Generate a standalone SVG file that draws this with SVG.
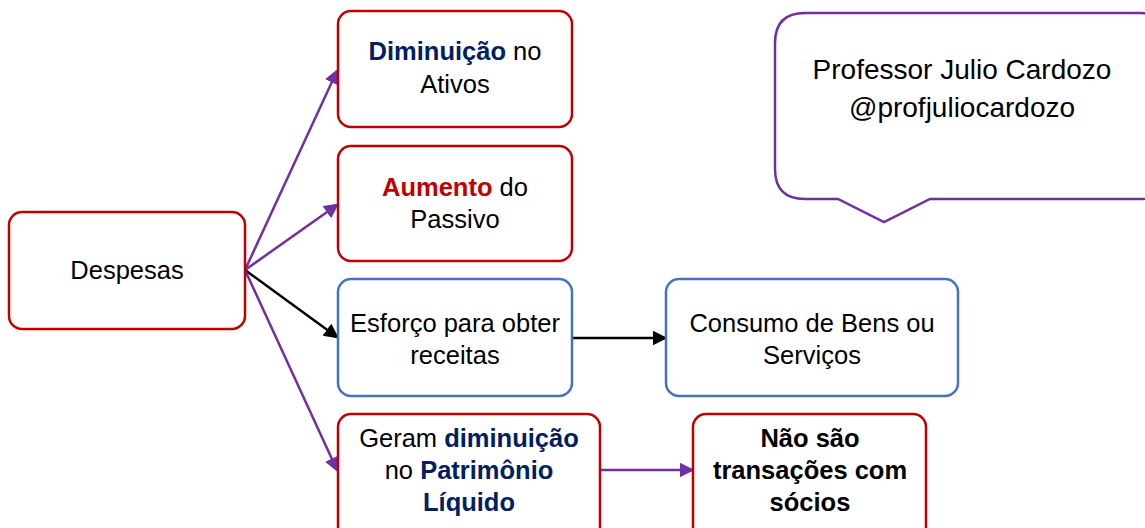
<svg xmlns="http://www.w3.org/2000/svg" width="1145" height="528" viewBox="0 0 1145 528">
<defs>
<style>
.red{fill:#fff;stroke:#C00000;stroke-width:2.5}
.blue{fill:#fff;stroke:#4472C4;stroke-width:2.5}
text{font-family:"Liberation Sans",Arial,sans-serif;font-size:25.5px;fill:#000;text-anchor:middle}
.big{font-size:28px}
.b{font-weight:bold}
.nb{fill:#002060;font-weight:bold}
.rb{fill:#C00000;font-weight:bold}
.pl{stroke:#7030A0;stroke-width:2.5;fill:none}
.bl{stroke:#000;stroke-width:2.5;fill:none}
</style>
<marker id="ap" markerWidth="6" markerHeight="6" refX="5" refY="3" orient="auto" markerUnits="strokeWidth"><path d="M0,0 L6,3 L0,6 z" fill="#7030A0"/></marker>
<marker id="ab" markerWidth="6" markerHeight="6" refX="5" refY="3" orient="auto" markerUnits="strokeWidth"><path d="M0,0 L6,3 L0,6 z" fill="#000"/></marker>
</defs>
<rect width="1145" height="528" fill="#fff"/>
<g id="connectors">
<line class="pl" x1="245" y1="270" x2="337" y2="71" marker-end="url(#ap)"/>
<line class="pl" x1="245" y1="270" x2="337" y2="205" marker-end="url(#ap)"/>
<line class="bl" x1="245" y1="270" x2="337" y2="337" marker-end="url(#ab)"/>
<line class="pl" x1="245" y1="270" x2="337" y2="470" marker-end="url(#ap)"/>
<line class="bl" x1="572" y1="338" x2="665" y2="338" marker-end="url(#ab)"/>
<line class="pl" x1="600" y1="470" x2="692" y2="470" marker-end="url(#ap)"/>
</g>
<g id="despesas">
<rect class="red" x="9" y="212" width="236" height="117" rx="13"/>
<text x="127" y="279">Despesas</text>
</g>
<g id="diminuicao">
<rect class="red" x="338" y="11" width="234" height="116" rx="13"/>
<text x="455" y="60"><tspan class="nb">Diminuição</tspan> no</text>
<text x="455" y="93">Ativos</text>
</g>
<g id="aumento">
<rect class="red" x="338" y="146" width="234" height="115" rx="13"/>
<text x="455" y="196"><tspan class="rb">Aumento</tspan> do</text>
<text x="455" y="228">Passivo</text>
</g>
<g id="esforco">
<rect class="blue" x="338" y="279" width="234" height="117" rx="13"/>
<text x="455" y="332">Esforço para obter</text>
<text x="455" y="364">receitas</text>
</g>
<g id="consumo">
<rect class="blue" x="666" y="279" width="292" height="117" rx="13"/>
<text x="812" y="332">Consumo de Bens ou</text>
<text x="812" y="364">Serviços</text>
</g>
<g id="geram">
<rect class="red" x="338" y="414" width="262" height="130" rx="13"/>
<text x="469" y="447">Geram <tspan class="nb">diminuição</tspan></text>
<text x="469" y="479">no <tspan class="nb">Patrimônio</tspan></text>
<text x="469" y="511" class="nb">Líquido</text>
</g>
<g id="naosao">
<rect class="red" x="693" y="414" width="233" height="130" rx="13"/>
<text x="810" y="447" class="b">Não são</text>
<text x="810" y="479" class="b">transações com</text>
<text x="810" y="511" class="b">sócios</text>
</g>
<g id="callout">
<path d="M805,13 H1140 Q1170,13 1170,43 V169 Q1170,199 1140,199 H930 L884,222 L838,199 H805 Q775,199 775,169 V43 Q775,13 805,13 Z" fill="#fff" stroke="#7030A0" stroke-width="2.5"/>
<text x="962" y="79" class="big">Professor Julio Cardozo</text>
<text x="962" y="117" class="big">@profjuliocardozo</text>
</g>
</svg>
